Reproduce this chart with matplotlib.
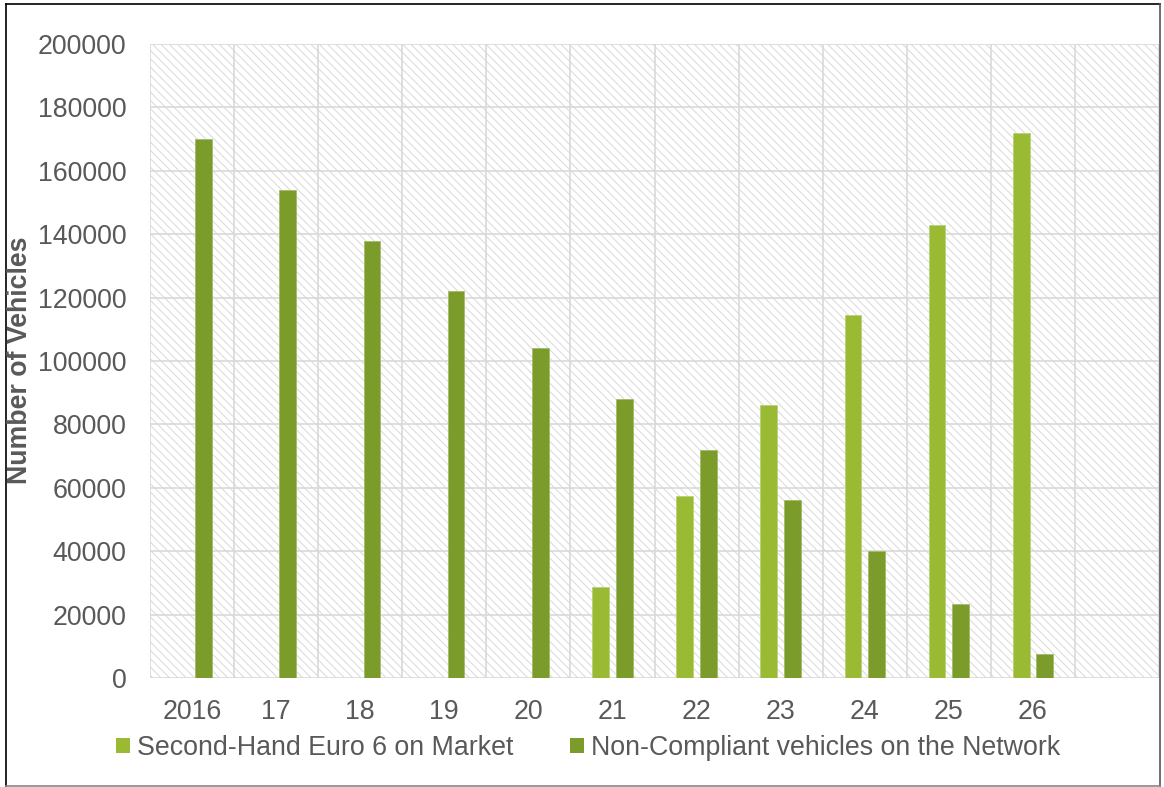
import matplotlib
matplotlib.use("Agg")
import matplotlib.pyplot as plt
from matplotlib.patches import Rectangle, Patch
from matplotlib.lines import Line2D
import numpy as np

categories = ["2016", "17", "18", "19", "20", "21", "22", "23", "24", "25", "26", ""]
second_hand = [0, 0, 0, 0, 0, 28700, 57500, 86000, 114500, 143000, 171800, 0]
non_compliant = [170000, 154000, 138000, 122000, 104000, 88000, 72000, 56000, 40000, 23500, 7500, 0]
series_names = ["Second-Hand Euro 6 on Market", "Non-Compliant vehicles on the Network"]
ylabel = "Number of Vehicles"

light = "#9aba34"
dark = "#7b9b2b"
txt = "#595959"
gridc = "#d9d9d9"
fs = 19.3

plt.rcParams['font.family'] = ['Liberation Sans', 'DejaVu Sans']
plt.rcParams['hatch.linewidth'] = 0.7

W, H = 1164, 787
fig = plt.figure(figsize=(W / 100, H / 100), dpi=100)
ax = fig.add_axes([150 / W, 1 - 678 / H, (1159 - 150) / W, (678 - 44) / H])

bg = Rectangle((0, 0), 1, 1, transform=ax.transAxes, facecolor="white",
               edgecolor="#d9d9d9", hatch="\\\\\\\\", linewidth=0, zorder=0)
ax.add_patch(bg)
ax.patch.set_visible(False)

x = np.arange(len(categories))
w = 0.2
off = 0.14
ax.bar(x - off, second_hand, width=w, color=light, edgecolor="#b8d27a", linewidth=0.6, zorder=3)
ax.bar(x + off, non_compliant, width=w, color=dark, edgecolor="#a3bb6a", linewidth=0.6, zorder=3)

ax.set_xlim(-0.5, len(categories) - 0.5)
ax.set_ylim(0, 200000)
ax.set_yticks(np.arange(0, 200001, 20000))
ax.set_xticks(x)
ax.set_xticklabels(categories)
ax.set_xticks(np.arange(-0.5, len(categories), 1.0), minor=True)

ax.grid(axis="y", which="major", color=gridc, linewidth=1.2, zorder=1)
ax.grid(axis="x", which="minor", color=gridc, linewidth=1.2, zorder=1)
ax.grid(axis="x", which="major", visible=False)
ax.set_axisbelow(True)

for s in ax.spines.values():
    s.set_visible(False)

ax.tick_params(axis="both", which="both", length=0, labelsize=fs, labelcolor=txt)
ax.tick_params(axis="y", pad=17)
ax.tick_params(axis="x", pad=15)

fig.text(20 / W, 1 - 360 / H, ylabel, rotation=90, ha="center", va="center",
         fontsize=19.3, fontweight="bold", color=txt)

handles = [Patch(facecolor=light, edgecolor="none"), Patch(facecolor=dark, edgecolor="none")]
fig.legend(handles, series_names, loc="center", bbox_to_anchor=(588 / W, 1 - 748 / H),
           ncol=2, frameon=False, fontsize=fs, labelcolor=txt,
           handlelength=0.53, handleheight=0.53, handletextpad=0.25,
           columnspacing=2.1, borderaxespad=0, borderpad=0)

# outer frame
fig.add_artist(Line2D([6 / W, 6 / W], [0, 1 - 4 / H], transform=fig.transFigure, color="black", linewidth=1.2))
fig.add_artist(Line2D([6 / W, 1160 / W], [1 - 4 / H, 1 - 4 / H], transform=fig.transFigure, color="black", linewidth=1.2))
fig.add_artist(Line2D([1160 / W, 1160 / W], [1 - 786 / H, 1 - 4 / H], transform=fig.transFigure, color="#555555", linewidth=1.2))
fig.add_artist(Line2D([6 / W, 1160 / W], [1 - 786 / H, 1 - 786 / H], transform=fig.transFigure, color="#888888", linewidth=1.2))

fig.savefig("out.png", dpi=100)
